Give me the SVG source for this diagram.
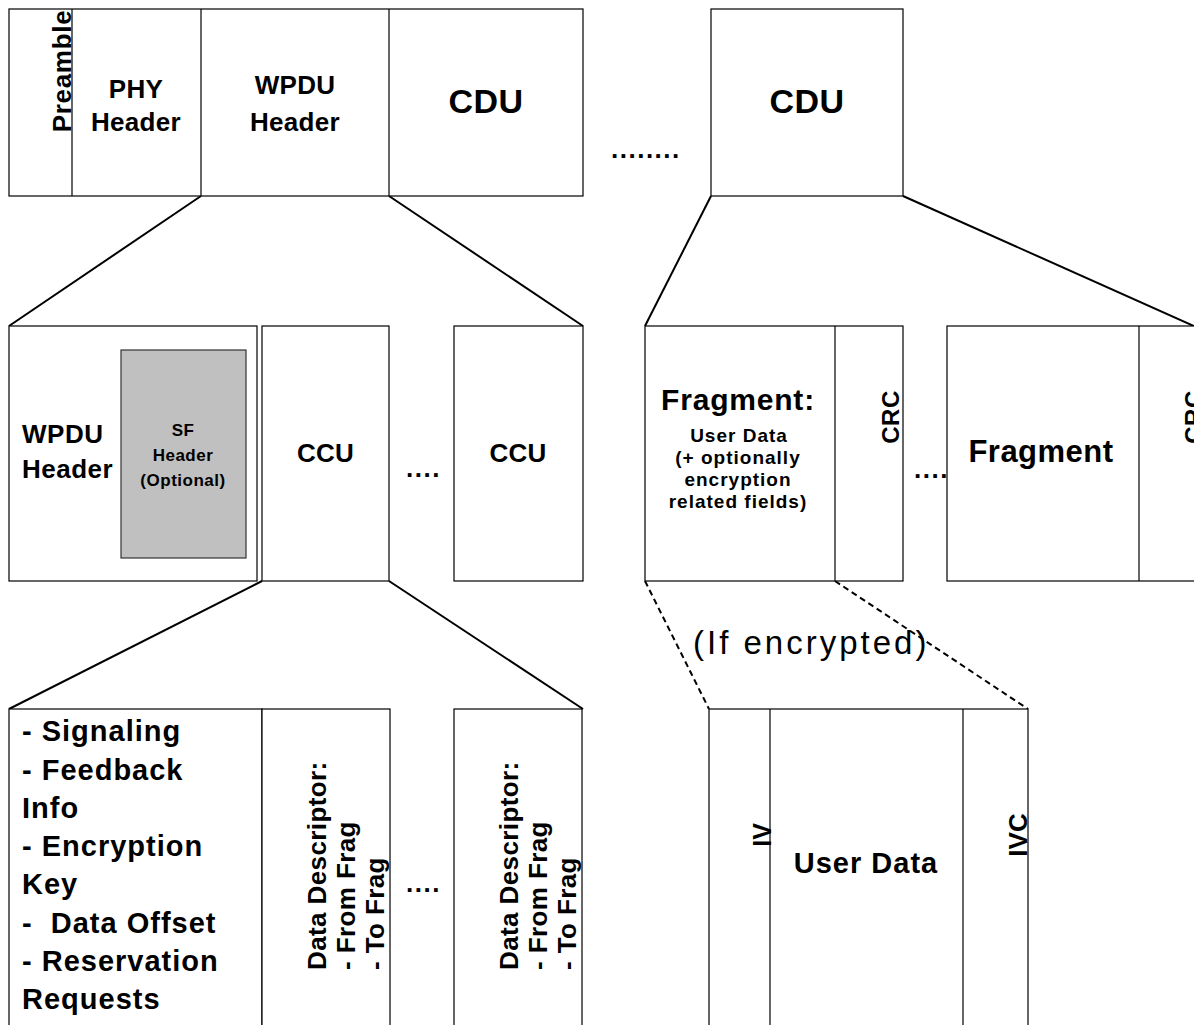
<svg xmlns="http://www.w3.org/2000/svg" width="1194" height="1025" viewBox="0 0 1194 1025">
<style>
.box{fill:#fff;stroke:#000;stroke-width:1.2}
.shade{fill:#c0c0c0;stroke:#333;stroke-width:1.2}
.div{stroke:#000;stroke-width:1.2;fill:none}
.con{stroke:#000;stroke-width:2;fill:none}
.dash{stroke:#000;stroke-width:2;fill:none;stroke-dasharray:6 4}
text{font-family:"Liberation Sans",Arial,sans-serif;font-weight:bold;fill:#000}
.c{text-anchor:middle}
.s{text-anchor:start}
.pre{white-space:pre}
.reg{font-weight:normal}
</style>
<rect width="1194" height="1025" fill="#fff"/>

<g id="connectors">
<line class="con" x1="201" y1="196" x2="9" y2="326"/>
<line class="con" x1="389" y1="196" x2="583" y2="326"/>
<line class="con" x1="711" y1="196" x2="645" y2="326"/>
<line class="con" x1="903" y1="196" x2="1194" y2="326"/>
<line class="con" x1="262" y1="581" x2="9" y2="709"/>
<line class="con" x1="389" y1="581" x2="583" y2="709"/>
<line class="dash" x1="645" y1="581" x2="709" y2="709"/>
<line class="dash" x1="835" y1="581" x2="1028" y2="709"/>
</g>

<g id="wpdu-frame">
<rect class="box" x="9" y="9" width="574" height="187"/>
<line class="div" x1="72" y1="9" x2="72" y2="196"/>
<line class="div" x1="201" y1="9" x2="201" y2="196"/>
<line class="div" x1="389" y1="9" x2="389" y2="196"/>
<text class="c" x="71" y="71" font-size="26" letter-spacing="0.7" transform="rotate(-90 71 71)">Preamble</text>
<text class="c" x="136" y="98" font-size="26" letter-spacing="0.3">PHY</text>
<text class="c" x="136" y="131" font-size="26" letter-spacing="0.3">Header</text>
<text class="c" x="295" y="94" font-size="26" letter-spacing="0.3">WPDU</text>
<text class="c" x="295" y="131" font-size="26" letter-spacing="0.3">Header</text>
<text class="c" x="486" y="113" font-size="34" letter-spacing="0.5">CDU</text>
</g>

<g id="dots-top">
<text class="s" x="611" y="158" font-size="26" letter-spacing="1.5">........</text>
</g>

<g id="cdu2">
<rect class="box" x="711" y="9" width="192" height="187"/>
<text class="c" x="807" y="113" font-size="34" letter-spacing="0.5">CDU</text>
</g>

<g id="wpdu-header">
<rect class="box" x="9" y="326" width="248" height="255"/>
<text class="s" x="22" y="443" font-size="26" letter-spacing="0.5">WPDU</text>
<text class="s" x="22" y="478" font-size="26" letter-spacing="0.5">Header</text>
</g>

<g id="sf-header">
<rect class="shade" x="121" y="350" width="125" height="208"/>
<text class="c" x="183" y="436" font-size="17" letter-spacing="0.5">SF</text>
<text class="c" x="183" y="461" font-size="17" letter-spacing="0.5">Header</text>
<text class="c" x="183" y="486" font-size="17" letter-spacing="0.5">(Optional)</text>
</g>

<g id="ccu1">
<rect class="box" x="262" y="326" width="127" height="255"/>
<text class="c" x="325.5" y="462" font-size="26" letter-spacing="0.3">CCU</text>
</g>

<g id="dots-ccu">
<text class="s" x="406" y="477" font-size="26" letter-spacing="1.5">....</text>
</g>

<g id="ccu2">
<rect class="box" x="454" y="326" width="129" height="255"/>
<text class="c" x="518" y="462" font-size="26" letter-spacing="0.3">CCU</text>
</g>

<g id="fragment1">
<rect class="box" x="645" y="326" width="258" height="255"/>
<line class="div" x1="835" y1="326" x2="835" y2="581"/>
<text class="c" x="738" y="410" font-size="30" letter-spacing="0.8">Fragment:</text>
<text class="c" x="739" y="442" font-size="19" letter-spacing="1">User Data</text>
<text class="c" x="738" y="464" font-size="19" letter-spacing="1">(+ optionally</text>
<text class="c" x="738" y="486" font-size="19" letter-spacing="1">encryption</text>
<text class="c" x="738" y="508" font-size="19" letter-spacing="1">related fields)</text>
<text class="c" x="899" y="417" font-size="24" letter-spacing="0.5" transform="rotate(-90 899 417)">CRC</text>
</g>

<g id="dots-frag">
<text class="s" x="914" y="478" font-size="26" letter-spacing="1.5">....</text>
</g>

<g id="fragment2">
<rect class="box" x="947" y="326" width="260" height="255"/>
<line class="div" x1="1139" y1="326" x2="1139" y2="581"/>
<text class="c" x="1041" y="462" font-size="31" letter-spacing="0.5">Fragment</text>
<text class="c" x="1202" y="417" font-size="24" letter-spacing="0.5" transform="rotate(-90 1202 417)">CRC</text>
</g>

<g id="control-fields">
<rect class="box" x="9" y="709" width="253" height="330"/>
<text class="s pre" x="22" y="741" font-size="29" letter-spacing="1">- Signaling</text>
<text class="s pre" x="22" y="780" font-size="29" letter-spacing="1">- Feedback</text>
<text class="s pre" x="22" y="818" font-size="29" letter-spacing="1">Info</text>
<text class="s pre" x="22" y="856" font-size="29" letter-spacing="1">- Encryption</text>
<text class="s pre" x="22" y="894" font-size="29" letter-spacing="1">Key</text>
<text class="s pre" x="22" y="933" font-size="29" letter-spacing="1">-  Data Offset</text>
<text class="s pre" x="22" y="971" font-size="29" letter-spacing="1">- Reservation</text>
<text class="s pre" x="22" y="1009" font-size="29" letter-spacing="1">Requests</text>
</g>

<g id="data-descriptor1">
<rect class="box" x="262" y="709" width="128" height="330"/>
<text class="s" x="326" y="970" font-size="26" letter-spacing="0.4" transform="rotate(-90 326 970)">Data Descriptor:</text>
<text class="s" x="355" y="970" font-size="26" letter-spacing="0.4" transform="rotate(-90 355 970)">- From Frag</text>
<text class="s" x="384" y="970" font-size="26" letter-spacing="0.4" transform="rotate(-90 384 970)">- To Frag</text>
</g>

<g id="dots-dd">
<text class="s" x="406" y="892" font-size="26" letter-spacing="1.5">....</text>
</g>

<g id="data-descriptor2">
<rect class="box" x="454" y="709" width="128" height="330"/>
<text class="s" x="518" y="970" font-size="26" letter-spacing="0.4" transform="rotate(-90 518 970)">Data Descriptor:</text>
<text class="s" x="547" y="970" font-size="26" letter-spacing="0.4" transform="rotate(-90 547 970)">- From Frag</text>
<text class="s" x="576" y="970" font-size="26" letter-spacing="0.4" transform="rotate(-90 576 970)">- To Frag</text>
</g>

<g id="encrypted-label">
<text class="s reg" x="693" y="654" font-size="33" letter-spacing="3">(If encrypted)</text>
</g>

<g id="encrypted-fragment">
<rect class="box" x="709" y="709" width="319" height="330"/>
<line class="div" x1="770" y1="709" x2="770" y2="1039"/>
<line class="div" x1="963" y1="709" x2="963" y2="1039"/>
<text class="c" x="771" y="835" font-size="25" transform="rotate(-90 771 835)">IV</text>
<text class="c" x="1027" y="835" font-size="26" transform="rotate(-90 1027 835)">IVC</text>
<text class="c" x="866" y="873" font-size="29" letter-spacing="1">User Data</text>
</g>
</svg>
